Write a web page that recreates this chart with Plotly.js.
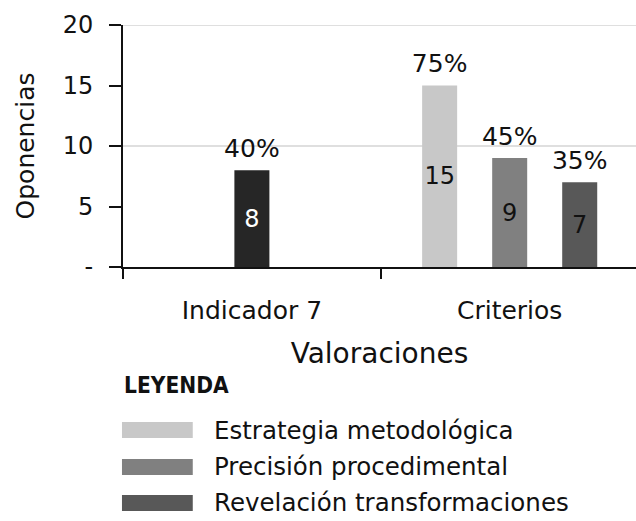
<!DOCTYPE html>
<html><head><meta charset="utf-8">
<script src="https://cdn.plot.ly/plotly-3.0.1.min.js"></script>
<style>html,body{margin:0;padding:0;background:#fff;}#chart{width:636px;height:521px;}</style>
</head><body><div id="chart"></div>
<script>
// ---- data ----
const categories = ["Indicador 7", "Criterios"];
const indicadorValue = [8];
const indicadorPct = ["40%"];
const seriesNames = ["Estrategia metodológica", "Precisión procedimental", "Revelación transformaciones"];
const seriesValues = [[15], [9], [7]];
const seriesPct = [["75%"], ["45%"], ["35%"]];
const yTickVals = [0, 5, 10, 15, 20];
const yTickText = ["-", "5", "10", "15", "20"];
const gridVals = [10, 20];
const legendTitle = "LEYENDA";

// ---- style ----
const FONT = "DejaVu Sans, sans-serif";
const FONT_C = "DejaVu Sans Condensed, DejaVu Sans, sans-serif";
const INK = "#111";
const seriesColors = ["#c8c8c8", "#808080", "#585858"];
const indicadorColor = "#262626";
const groups = ["a", "b", "c"];
const BARGAP = 0.185;

const traces = [];
seriesNames.forEach((name, i) => {
  traces.push({
    type: "bar", name: name, x: [categories[1]], y: seriesValues[i],
    offsetgroup: groups[i], marker: {color: seriesColors[i]},
    text: seriesValues[i].map(String), textposition: "inside", insidetextanchor: "middle",
    textangle: 0, constraintext: "none",
    insidetextfont: {family: FONT, size: 24, color: INK},
    hoverinfo: "skip", showlegend: false
  });
});
traces.push({
  type: "bar", name: categories[0], x: [categories[0]], y: indicadorValue,
  offsetgroup: "b", marker: {color: indicadorColor},
  text: indicadorValue.map(String), textposition: "inside", insidetextanchor: "middle",
  textangle: 0, constraintext: "none",
  insidetextfont: {family: FONT, size: 24, color: "#ffffff"},
  hoverinfo: "skip", showlegend: false
});
// percentage labels above bars
const pctMarker = {size: 10, opacity: 0};
seriesNames.forEach((name, i) => {
  traces.push({
    type: "scatter", mode: "markers+text", x: [categories[1]], y: seriesValues[i],
    offsetgroup: groups[i], text: seriesPct[i], textposition: "top center", marker: pctMarker,
    textfont: {family: FONT, size: 25, color: INK}, cliponaxis: false,
    hoverinfo: "skip", showlegend: false
  });
});
traces.push({
  type: "scatter", mode: "markers+text", x: [categories[0]], y: indicadorValue,
  offsetgroup: "b", text: indicadorPct, textposition: "top center", marker: pctMarker,
  textfont: {family: FONT, size: 25, color: INK}, cliponaxis: false,
  hoverinfo: "skip", showlegend: false
});

const shapes = gridVals.map(v => ({
  type: "line", xref: "paper", yref: "y", x0: 0, x1: 1, y0: v, y1: v,
  line: {color: "#d4d4d4", width: 1.5}, layer: "below"
}));
const annotations = [{
  xref: "paper", yref: "paper", x: -0.002, y: -0.4876, xanchor: "left", yanchor: "middle",
  text: "<b>" + legendTitle + "</b>", showarrow: false, font: {family: FONT_C, size: 22.5, color: INK}
}];
const rowY = [-0.6736, -0.8264, -0.9752];
seriesNames.forEach((name, i) => {
  shapes.push({
    type: "rect", xref: "paper", yref: "paper", x0: -0.002, x1: 0.136,
    y0: rowY[i] - 0.033, y1: rowY[i] + 0.033, fillcolor: seriesColors[i], line: {width: 0}
  });
  annotations.push({
    xref: "paper", yref: "paper", x: 0.173, y: rowY[i], xanchor: "left", yanchor: "middle",
    text: name, showarrow: false, font: {family: FONT, size: 24.5, color: INK}
  });
});

const layout = {
  width: 636, height: 521,
  margin: {l: 123, r: 0, t: 25, b: 254},
  paper_bgcolor: "#fff", plot_bgcolor: "#fff",
  font: {family: FONT, color: INK},
  barmode: "group", bargap: BARGAP, bargroupgap: 0.5,
  scattermode: "group", scattergap: BARGAP,
  showlegend: false,
  xaxis: {
    type: "category", categoryorder: "array", categoryarray: categories,
    range: [-0.5, 1.49], tickson: "boundaries",
    ticks: "outside", ticklen: 10, tickwidth: 2, tickcolor: INK,
    showline: true, linecolor: INK, linewidth: 2, showgrid: false,
    tickfont: {family: FONT, size: 25, color: INK}, ticklabelstandoff: 20,
    title: {text: "Valoraciones", font: {family: FONT, size: 28, color: INK}, standoff: 19},
    automargin: false
  },
  yaxis: {
    range: [0, 20], tickvals: yTickVals, ticktext: yTickText,
    ticks: "outside", ticklen: 12, tickwidth: 2, tickcolor: INK,
    showline: true, linecolor: INK, linewidth: 2, showgrid: false, zeroline: false,
    tickfont: {family: FONT, size: 24, color: INK}, ticklabelstandoff: 11,
    title: {text: "Oponencias", font: {family: FONT, size: 25, color: INK}, standoff: 21},
    automargin: false
  },
  shapes: shapes,
  annotations: annotations
};
Plotly.newPlot("chart", traces, layout, {displayModeBar: false, staticPlot: true});
</script>
</body></html>
